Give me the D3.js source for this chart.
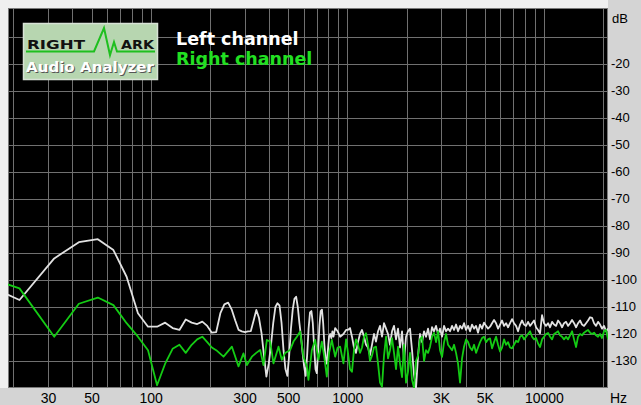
<!DOCTYPE html>
<html><head><meta charset="utf-8">
<script src="https://cdn.jsdelivr.net/npm/d3@7"></script>
<style>body{margin:0;background:#d4d4d4;} svg{display:block}</style>
</head><body><svg id="c" width="641" height="405"></svg>
<script>
// ---------- DATA ----------
const gridHz = [20,30,40,50,60,70,80,90,100,200,300,400,500,600,700,800,900,1000,2000,3000,4000,5000,6000,7000,8000,9000,10000,20000];
const gridDb = [-10,-20,-30,-40,-50,-60,-70,-80,-90,-100,-110,-120,-130];
const xTickHz = [30,50,100,300,500,1000,3000,5000,10000];
const xTickText = ["30","50","100","300","500","1000","3K","5K","10000"];
const yTickDb = [-20,-30,-40,-50,-60,-70,-80,-90,-100,-110,-120,-130];

const leftLowHz = [10.8,21.5,32.3,43.1,53.8,64.6,75.4,86.1,96.9,107.7,118.4,129.2,140,150.7,161.5,172.3,183,193.8,204.6,215.3,226.1,236.9,247.6,258.4,269.2,279.9,290.7,301.5,312.2,323,333.8,344.5,355.3,366.1,376.8,387.6,398.4,409.1,419.9,430.7,441.4,452.2,463,473.7,484.5,495.3,506,516.8,527.6,538.3,549.1,559.9,570.6,581.4,592.2,602.9,613.7,624.5,635.2,646,656.8,667.5,678.3,689.1,699.8,710.6,721.4,732.1,742.9,753.7,764.4,775.2,786,796.7,807.5,818.3,829,839.8,850.6,867,892.8,919.2,955.4,986];
const leftLowDb = [-97.3,-107.4,-92,-86,-84.9,-88.9,-98.8,-112.3,-117.3,-117.3,-115.8,-117.8,-118.5,-114.6,-115.8,-116.3,-115.4,-117,-119.5,-119.3,-112.3,-109,-108.4,-111,-115,-118.5,-119,-119.3,-119,-118.9,-115,-111.1,-114,-119.7,-128,-135.8,-131,-124,-116,-110,-108.6,-109.5,-116,-126,-133,-135.5,-128,-118,-111,-107,-106.2,-110,-116,-121,-127,-132,-135.5,-128,-118,-112,-111.5,-116,-125,-133,-134.5,-126,-117,-111.5,-111,-116,-124,-129,-131,-126,-121,-120,-121.5,-119,-121,-117.8,-119,-121,-120,-118.5];

const rightLowHz = [10.8,21.5,32.3,43.1,53.8,64.6,75.4,86.1,96.9,107.7,118.4,129.2,140,150.7,161.5,172.3,183,193.8,204.6,215.3,234.6,258.8,279.6,296.4,308.4,327,344,360.4,374.6,389.8,405.2,421,446.6,464.6,482.8,512,532.2,553.8,575.6,598.2,622.4,634.2,660,686,713,742,762,786.6,808,834,867,892.8,919.2,955.4,986];
const rightLowDb = [-95.7,-103.1,-121,-108.8,-106.5,-109.3,-116,-121,-126,-139,-131,-125.5,-124,-127,-124,-122,-121,-123,-125,-126,-128.4,-124.7,-132,-127.2,-131.5,-128.4,-127,-125.9,-131.5,-122.2,-122.8,-130.9,-124.7,-129.6,-127,-125.9,-122.8,-121,-119.1,-128.4,-132,-137,-126,-122.2,-129.6,-122.8,-128,-135.8,-127,-122.2,-128.4,-125,-124.7,-130.9,-122];

const highHz = [1008,1032,1056,1081,1107,1133,1160,1188,1216,1245,1274,1304,1335,1367,1399,1433,1467,1501,1537,1574,1611,1649,1688,1728,1769,1811,1854,1898,1943,1989,2036,2084,2134,2184,2236,2289,2343,2399,2456,2514,2574,2635,2697,2761,2827,2894,2962,3033,3105,3178,3254,3331,3410,3490,3573,3658,3745,3833,3924,4017,4113,4210,4310,4412,4517,4624,4733,4846,4960,5078,5198,5322,5448,5577,5709,5845,5983,6125,6270,6419,6571,6727,6886,7049,7216,7387,7563,7742,7925,8113,8305,8502,8704,8910,9121,9337,9558,9785,10017,10254,10497,10746,11001,11261,11528,11801,12081,12367,12660,12960,13267,13582,13904,14233,14570,14916,15269,15631,16001,16380,16768,17166,17572,17989,18415,18851,19298,19755,20223,20702,21193];
const leftHighDb = [-118.5,-117.8,-121,-125,-127,-123,-120,-118.5,-121,-124,
 -125,-127.8,-124,-120,-122.8,-119,-117,-121,-116,-118,
 -120,-124,-119,-117,-122,-118,-125,-119,-130,-121,
 -119,-118,-126,-135,-140,-128,-120,-123,-119,-121,
 -118,-122,-117.5,-119,-117,-120,-118,-121,-117,-119,
 -118,-119,-117,-118.5,-116.5,-119,-117,-118,-116,-118.5,
 -117,-119,-116.5,-118,-117,-119.5,-116.5,-118,-115.8,-117,
 -118,-117.3,-116,-114.8,-116,-118,-116.5,-115,-117,-116,
 -117.5,-116,-114.5,-116,-117,-119,-116.5,-115,-116.5,-117,
 -115.5,-117,-116,-115,-117.5,-118.5,-119.7,-113,-116,-117,
 -116,-117.5,-115.5,-116.5,-117,-115,-116,-117.5,-116,-115.5,
 -117,-116,-114.8,-116,-117.5,-116,-115,-116.5,-117,-116,
 -115,-113.8,-114,-116,-117,-115.5,-116.5,-118,-117,-119,-118];
const rightHighDb = [-127,-133,-134,-126,-122,-124,-127,-125,-121,-119.7,
 -124,-130,-128,-125,-124.7,-131,-138,-139.5,-128,-121,
 -129,-126,-121.5,-127,-133,-124.7,-131,-136,-124,-138,
 -134,-127,-137,-140,-130,-128,-122,-121,-130,-126,
 -127,-124.7,-121,-119.6,-123,-119,-126,-128.5,-123,-120,
 -124,-125,-126,-124,-127,-131,-138,-129,-124.7,-122,
 -123,-125,-126,-124,-127,-125,-123,-121.5,-121,-123,
 -122,-121.6,-125.3,-123,-121,-124,-126.5,-125,-122,-124,
 -123,-125,-125.3,-124,-122.5,-123,-121,-120.5,-122,-121,
 -120,-119,-121,-122,-121.5,-123.5,-124.8,-122,-121,-120,
 -119.6,-121,-122,-120,-119.5,-119,-120.5,-121,-122,-121,
 -122,-120.5,-119,-122,-124.8,-121,-120,-120.5,-119.5,-119,
 -118.5,-119.5,-120,-119.5,-120.5,-121,-120,-121.5,-119,-118.5,-122];

// ---------- CHART ----------
const svg = d3.select("#c");
const PL = 8, PR = 608, PT = 8, PB = 388;
const x = d3.scaleLog().domain([20,20000]).range([13.3,603.1]);
const y = d3.scaleLinear().domain([0,-140]).range([10,388]);

svg.append("rect").attr("x",0).attr("y",0).attr("width",PR).attr("height",PT).attr("fill","#efefef");
svg.append("rect").attr("x",0).attr("y",0).attr("width",PL).attr("height",PB).attr("fill","#efefef");
svg.append("rect").attr("x",PL).attr("y",PT).attr("width",PR-PL).attr("height",PB-PT).attr("fill","#000");

svg.append("defs").append("clipPath").attr("id","clip")
  .append("rect").attr("x",PL).attr("y",PT).attr("width",PR-PL).attr("height",PB-PT);

const grid = svg.append("g").attr("stroke","#707070").attr("stroke-width",1);
grid.selectAll("line.v").data(gridHz).join("line")
  .attr("x1",d=>Math.round(x(d))+0.5).attr("x2",d=>Math.round(x(d))+0.5)
  .attr("y1",PT).attr("y2",PB);
grid.selectAll("line.h").data(gridDb).join("line").attr("class","h")
  .attr("y1",d=>Math.round(y(d))+0.5).attr("y2",d=>Math.round(y(d))+0.5)
  .attr("x1",PL).attr("x2",PR);
svg.append("rect").attr("x",PL+0.5).attr("y",PT+0.5).attr("width",PR-PL-1).attr("height",PB-PT-1)
  .attr("fill","none").attr("stroke","#7a7a7a");

const line = d3.line().x(d=>x(d[0])).y(d=>y(d[1]));
const leftData = leftLowHz.map((f,i)=>[f,leftLowDb[i]]).concat(highHz.map((f,i)=>[f,leftHighDb[i]]));
const rightData = rightLowHz.map((f,i)=>[f,rightLowDb[i]]).concat(highHz.map((f,i)=>[f,rightHighDb[i]]));
const plot = svg.append("g").attr("clip-path","url(#clip)");
plot.append("path").attr("d",line(leftData)).attr("fill","none").attr("stroke","#e2e2e2").attr("stroke-width",1.8).attr("stroke-linejoin","round");
plot.append("path").attr("d",line(rightData)).attr("fill","none").attr("stroke","#14cc14").attr("stroke-width",1.8).attr("stroke-linejoin","round");

// axes
const xAxis = d3.axisBottom(x).tickValues(xTickHz).tickFormat((d,i)=>xTickText[i]).tickSize(0).tickPadding(5);
const gx = svg.append("g").attr("transform",`translate(0,${PB})`).call(xAxis);
gx.select(".domain").remove();
gx.selectAll("text").attr("font-family","Liberation Sans, Arial, sans-serif").attr("font-size",14).attr("fill","#000");

const yAxis = d3.axisRight(y).tickValues(yTickDb).tickFormat(d=>String(d)).tickSize(0).tickPadding(3);
const gy = svg.append("g").attr("transform",`translate(${PR},-1)`).call(yAxis);
gy.select(".domain").remove();
gy.selectAll("text").attr("font-family","Liberation Sans, Arial, sans-serif").attr("font-size",13).attr("fill","#000");

svg.append("text").attr("x",612).attr("y",23).text("dB")
  .attr("font-family","Liberation Sans, Arial, sans-serif").attr("font-size",13);
svg.append("text").attr("x",610).attr("y",403).text("Hz")
  .attr("font-family","Liberation Sans, Arial, sans-serif").attr("font-size",14);

// logo
const logo = svg.append("g");
logo.append("rect").attr("x",23.5).attr("y",23.5).attr("width",134).attr("height",56)
  .attr("fill","#b7d6b0").attr("stroke","#d8e2d6").attr("stroke-width",1.5);
logo.append("text").attr("x",27).attr("y",48.5).text("RIGHT")
  .attr("font-family","DejaVu Sans, sans-serif").attr("font-weight","bold").attr("font-size",12.5)
  .attr("textLength",58).attr("lengthAdjust","spacingAndGlyphs").attr("fill","#111");
logo.append("text").attr("x",121).attr("y",48.5).text("ARK")
  .attr("font-family","DejaVu Sans, sans-serif").attr("font-weight","bold").attr("font-size",12.5)
  .attr("textLength",33).attr("lengthAdjust","spacingAndGlyphs").attr("fill","#111");
logo.append("path").attr("d","M26,51.5 L94,51.5 L104,28 L110,55 L114,42 L117,51.5 L155,51.5")
  .attr("fill","none").attr("stroke","#1fbf1f").attr("stroke-width",2);
logo.append("text").attr("x",27).attr("y",73).text("Audio Analyzer")
  .attr("font-family","DejaVu Sans, sans-serif").attr("font-weight","bold").attr("font-size",14)
  .attr("textLength",128).attr("lengthAdjust","spacingAndGlyphs").attr("fill","#555");
logo.append("text").attr("x",26).attr("y",72).text("Audio Analyzer")
  .attr("font-family","DejaVu Sans, sans-serif").attr("font-weight","bold").attr("font-size",14)
  .attr("textLength",128).attr("lengthAdjust","spacingAndGlyphs").attr("fill","#fff");

svg.append("text").attr("x",176).attr("y",44.5).text("Left channel")
  .attr("font-family","DejaVu Sans, sans-serif").attr("font-weight","bold").attr("font-size",17.5).attr("fill","#fff");
svg.append("text").attr("x",176).attr("y",65).text("Right channel")
  .attr("font-family","DejaVu Sans, sans-serif").attr("font-weight","bold").attr("font-size",17.5).attr("fill","#22e022");
</script></body></html>
